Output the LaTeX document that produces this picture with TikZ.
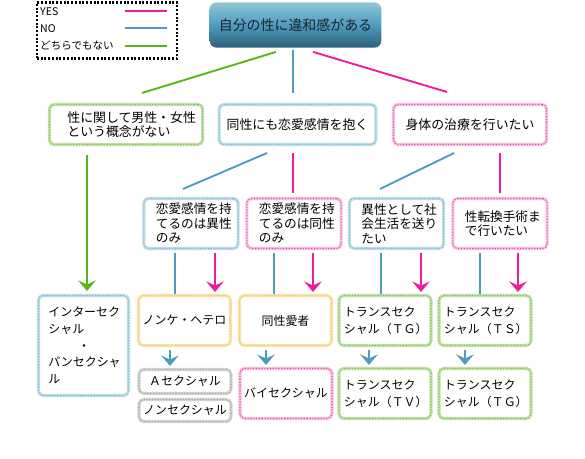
\documentclass[tikz,border=0pt]{standalone}
\usepackage{fontspec}
\setmainfont{Noto Sans CJK JP}
\usepackage{xcolor}
\usetikzlibrary{positioning,calc,arrows.meta}

\definecolor{yesC}{HTML}{EE1C9C}
\definecolor{noC}{HTML}{4E9BC0}
\definecolor{othC}{HTML}{58B41A}
\definecolor{grnL}{HTML}{C2E1AA}
\definecolor{grnD}{HTML}{79BF4C}
\definecolor{bluL}{HTML}{BCDDE8}
\definecolor{bluD}{HTML}{7DB7CF}
\definecolor{pnkL}{HTML}{F5C3E2}
\definecolor{pnkD}{HTML}{E8409F}
\definecolor{ylwL}{HTML}{F8E4AE}
\definecolor{ylwD}{HTML}{EFC766}
\definecolor{gryL}{HTML}{D4D4D4}
\definecolor{gryD}{HTML}{A2A2A2}
\definecolor{topL}{HTML}{92C6D7}
\definecolor{topD}{HTML}{2E5F77}
\definecolor{topT}{HTML}{16262D}

\tikzset{
  box/.style 2 args={rounded corners=4pt, line width=2.6pt, draw=#1, fill=white,
    postaction={draw=#2, line width=0.9pt, dash pattern=on 0.9pt off 1.5pt},
    inner sep=0pt},
  greenbox/.style={box={grnL}{grnD}},
  bluebox/.style={box={bluL}{bluD}},
  pinkbox/.style={box={pnkL}{pnkD}},
  yellowbox/.style={box={ylwL}{ylwD}},
  graybox/.style={box={gryL}{gryD}},
  rowtwo/.style={minimum width=4.6cm, minimum height=1.2cm, font=\fontsize{11}{12.2}\selectfont},
  rowthree/.style={minimum width=2.83cm, minimum height=1.5cm, text width=6em, align=left,
    font=\fontsize{10.8}{12.4}\selectfont},
  rowfour/.style={minimum width=2.76cm, minimum height=1.5cm, align=center,
    font=\fontsize{10.2}{14.2}\selectfont},
  yesline/.style={draw=yesC, line width=1.6pt},
  noline/.style={draw=noC, line width=1.6pt},
  othline/.style={draw=othC, line width=1.6pt},
  tip/.style={-{Stealth[length=9pt,width=15pt,inset=3.5pt]}},
  legtext/.style={anchor=west, inner sep=0pt, font=\fontsize{9}{10}\selectfont},
}

\begin{document}
\begin{tikzpicture}[x=0.03cm,y=-0.03cm]
\useasboundingbox (0,0) rectangle (585,459);

% legend
\node[draw=black, line width=2pt, dash pattern=on 1.6pt off 1.6pt, minimum width=4.2cm, minimum height=1.68cm] (legend) at (107,30.5) {};
\node[legtext] (lgyes) at (40,12) {YES};
\node[legtext] (lgno) at (40,28.5) {NO};
\node[legtext] (lgnone) at (40,45.5) {どちらでもない};
\draw[yesline, line width=1pt] (125,11) -- (167,11);
\draw[noline, line width=1pt] (125,28) -- (167,28);
\draw[othline, line width=1pt] (125,46) -- (167,46);

% start
\node[rounded corners=6pt, top color=topL, bottom color=topD, middle color=noC,
  minimum width=5.15cm, minimum height=1.36cm, text=topT,
  font=\fontsize{11.9}{13}\selectfont] (top) at (295.5,25) {自分の性に違和感がある};

% second row
\node[greenbox, rowtwo, text width=10em, align=left] (noidea) at (126,124.5) {性に関して男性・女性\\という概念がない};
\node[bluebox, rowtwo, minimum width=4.7cm] (samelove) at (297.5,124.5) {同性にも恋愛感情を抱く};
\node[pinkbox, rowtwo] (treat) at (470,124.5) {身体の治療を行いたい};

% third row
\node[bluebox, rowthree] (heteroonly) at (191,223.5) {恋愛感情を持\\てるのは異性\\のみ};
\node[pinkbox, rowthree] (homoonly) at (294,223.5) {恋愛感情を持\\てるのは同性\\のみ};
\node[bluebox, rowthree] (sociallife) at (396.5,223.5) {異性として社\\会生活を送り\\たい};
\node[pinkbox, rowthree] (surgery) at (500,223.5) {性転換手術ま\\で行いたい};

% fourth row
\node[bluebox, rowfour, minimum width=2.7cm, minimum height=3cm, text width=6em, align=left] (intersex) at (83.5,345.5)
  {インターセク\\シャル\\\makebox[6em][c]{・}\\パンセクシャ\\ル};
\node[yellowbox, rowfour] (nonke) at (184.5,320.5) {ノンケ・ヘテロ};
\node[yellowbox, rowfour] (homo) at (285.5,320.5) {同性愛者};
\node[greenbox, rowfour, text width=7em, align=left] (transTG) at (385,320.5) {トランスセク\\シャル（ＴＧ）};
\node[greenbox, rowfour, text width=7em, align=left] (transTS) at (485,320.5) {トランスセク\\シャル（ＴＳ）};

% fifth row
\node[graybox, rowfour, minimum height=0.72cm] (asexual) at (185,381.5) {Ａセクシャル};
\node[graybox, rowfour, minimum height=0.66cm] (nonsexual) at (185,410.5) {ノンセクシャル};
\node[pinkbox, rowfour] (bisexual) at (286,393.5) {バイセクシャル};
\node[greenbox, rowfour, text width=7em, align=left] (transTV) at (385,393.5) {トランスセク\\シャル（ＴＶ）};
\node[greenbox, rowfour, text width=7em, align=left] (transTG2) at (485,393.5) {トランスセク\\シャル（ＴＧ）};

% first answers
\draw[othline] ($(top.south)+(-19.5,4)$) -- ($(noidea.north)+(16,-10)$);
\draw[noline] ($(top.south)+(-2.5,2)$) -- ($(samelove.north)+(-4.5,-10)$);
\draw[yesline] ($(top.south)+(17.5,4)$) -- ($(treat.north)+(-23,-11)$);

% second answers
\draw[othline, tip] ($(noidea.south)+(-39,9)$) -- ($(intersex.north)+(3.5,-3)$);
\draw[noline] ($(samelove.south)+(-30.5,7)$) -- ($(heteroonly.north)+(-8,-8)$);
\draw[yesline] ($(samelove.south)+(-4.5,7)$) -- ($(homoonly.north)+(-1,-4)$);
\draw[noline] ($(treat.south)+(-16,7)$) -- ($(sociallife.north)+(-16.5,-8)$);
\draw[yesline] ($(treat.south)+(30,7)$) -- ($(surgery.north)+(0,-4)$);

% third answers
\draw[noline] ($(heteroonly.south)+(-16,3)$) -- ($(nonke.north)+(-9.5,0)$);
\draw[yesline, tip] ($(heteroonly.south)+(24,3)$) -- ($(nonke.north)+(30.5,-2)$);
\draw[noline] ($(homoonly.south)+(-20,3)$) -- ($(homo.north)+(-11.5,0)$);
\draw[yesline, tip] ($(homoonly.south)+(19,3)$) -- ($(homo.north)+(27.5,-2)$);
\draw[noline] ($(sociallife.south)+(-15.5,3)$) -- ($(transTG.north)+(-4,0)$);
\draw[yesline, tip] ($(sociallife.south)+(24.5,3)$) -- ($(transTG.north)+(36,-2)$);
\draw[noline] ($(surgery.south)+(-20,3)$) -- ($(transTS.north)+(-5,0)$);
\draw[yesline, tip] ($(surgery.south)+(18,3)$) -- ($(transTS.north)+(33,-2)$);

% fourth answers
\draw[noline, tip] ($(nonke.south)+(-14.5,3)$) -- ($(asexual.north)+(-15,-2)$);
\draw[noline, tip] ($(homo.south)+(-19.5,3)$) -- ($(bisexual.north)+(-20,-2)$);
\draw[noline, tip] ($(transTG.south)+(-16,3)$) -- ($(transTV.north)+(-16,-2)$);
\draw[noline, tip] ($(transTS.south)+(-20,3)$) -- ($(transTG2.north)+(-20,-2)$);
\end{tikzpicture}
\end{document}
